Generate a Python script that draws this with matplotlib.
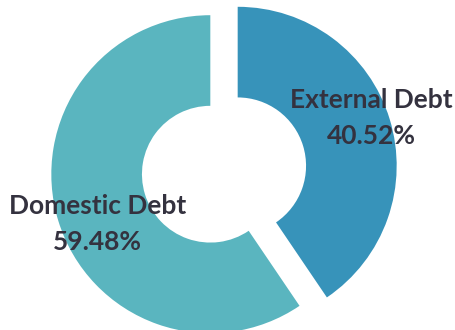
import matplotlib.pyplot as plt

# debt composition
labels = ['External Debt', 'Domestic Debt']
shares = [40.52, 59.48]
colors = ['#3793BA', '#5AB5BF']
explode = [0.09, 0.09]

fig = plt.figure(figsize=(4.56, 3.30), dpi=100)
ax = fig.add_axes([0, 0, 1, 1])

wedges, _ = ax.pie(shares, colors=colors, explode=explode, startangle=90,
                   counterclock=False, radius=1.0,
                   wedgeprops=dict(width=0.57, linewidth=0))

# label positions, pie radius = 1
label_pos = [(0.925, 0.33), (-0.795, -0.34)]
for lab, val, (x, y) in zip(labels, shares, label_pos):
    ax.text(x, y, f'{lab}\n{val:.2f}%', ha='center', va='center',
            fontsize=19, fontweight='bold', color='#34323F',
            family='Lato', linespacing=1.6)

ax.set_xlim(-224 / 159, (456 - 224) / 159)
ax.set_ylim(-(330 - 170) / 159, 170 / 159)
ax.set_aspect('equal', adjustable='box')
ax.axis('off')

fig.savefig('out.png', dpi=100)
